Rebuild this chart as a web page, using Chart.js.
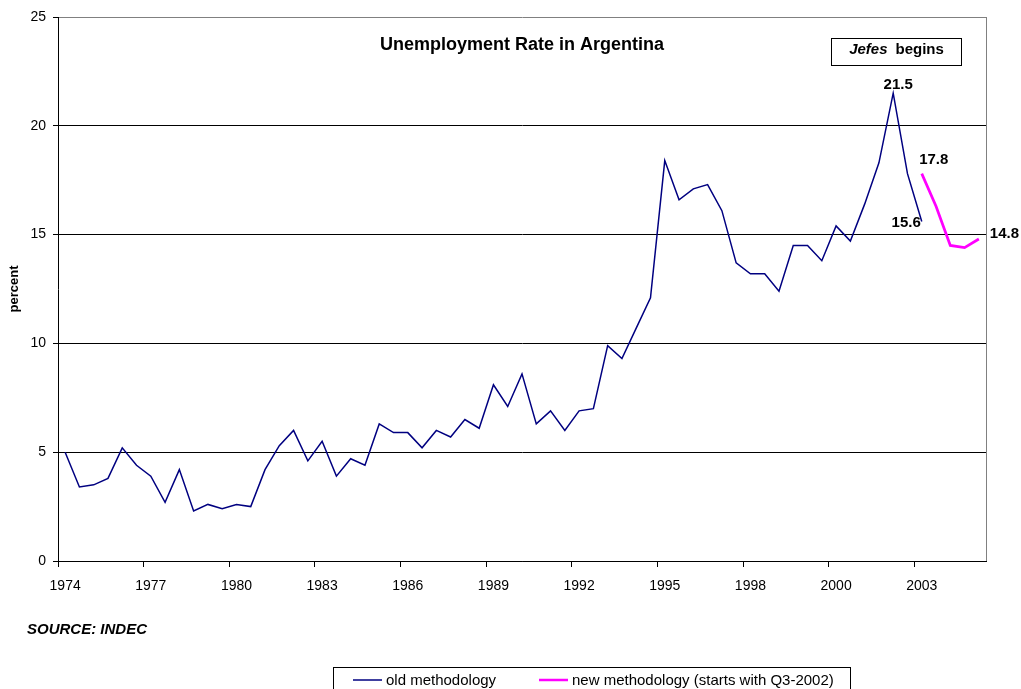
<!DOCTYPE html>
<html>
<head>
<meta charset="utf-8">
<script src="https://cdn.jsdelivr.net/npm/chart.js@4.4.0/dist/chart.umd.min.js"></script>
<style>
html,body{margin:0;padding:0;background:#ffffff;}
#wrap{width:1021px;height:689px;position:relative;overflow:hidden;}
</style>
</head>
<body>
<div id="wrap"><canvas id="c" width="1021" height="689"></canvas></div>
<script>
// ---- data (semi-annual survey rounds, later more frequent) ----
const yearLabels = ['1974','1977','1980','1983','1986','1989','1992','1995','1998','2000','2003'];
const oldMethodology = [
  5.0, 3.4, 3.5, 3.8, 5.2, 4.4, 3.9, 2.7, 4.2, 2.3,
  2.6, 2.4, 2.6, 2.5, 4.2, 5.3, 6.0, 4.6, 5.5, 3.9,
  4.7, 4.4, 6.3, 5.9, 5.9, 5.2, 6.0, 5.7, 6.5, 6.1,
  8.1, 7.1, 8.6, 6.3, 6.9, 6.0, 6.9, 7.0, 9.9, 9.3,
  10.7, 12.1, 18.4, 16.6, 17.1, 17.3, 16.1, 13.7, 13.2, 13.2,
  12.4, 14.5, 14.5, 13.8, 15.4, 14.7, 16.4, 18.3, 21.5, 17.8,
  15.6, null, null, null, null
];
const newMethodology = [
  null, null, null, null, null, null, null, null, null, null,
  null, null, null, null, null, null, null, null, null, null,
  null, null, null, null, null, null, null, null, null, null,
  null, null, null, null, null, null, null, null, null, null,
  null, null, null, null, null, null, null, null, null, null,
  null, null, null, null, null, null, null, null, null, null,
  17.8, 16.3, 14.5, 14.4, 14.8
];
const seriesNames = ['old methodology', 'new methodology (starts with Q3-2002)'];
const chartTitle = 'Unemployment Rate in Argentina';
const yAxisTitle = 'percent';
const sourceNote = 'SOURCE: INDEC';
const yMin = 0, yMax = 25, yStep = 5;
const labelEvery = 6;
const categories = oldMethodology.map((_, i) => (i % labelEvery === 0 ? yearLabels[i / labelEvery] : ''));

const FONT = "'Liberation Sans', Arial, Helvetica, sans-serif";
const BLUE = '#000080';
const PINK = '#FF00FF';

const decor = {
  id: 'decor',
  beforeDatasetsDraw(chart) {
    const {ctx, chartArea: a} = chart;
    ctx.save();
    ctx.strokeStyle = '#808080';
    ctx.lineWidth = 1;
    const rx = Math.round(a.right) + 0.5;
    ctx.beginPath();
    ctx.moveTo(rx, a.top);
    ctx.lineTo(rx, a.bottom);
    ctx.stroke();
    ctx.restore();
  },
  afterDraw(chart) {
    const {ctx, chartArea: a} = chart;
    const oldPts = chart.getDatasetMeta(0).data;
    const newPts = chart.getDatasetMeta(1).data;
    ctx.save();
    ctx.fillStyle = '#000';
    ctx.textBaseline = 'alphabetic';

    // title
    ctx.font = 'bold 18px ' + FONT;
    ctx.textAlign = 'center';
    ctx.fillText(chartTitle, (a.left + a.right) / 2, 50);

    // value annotations
    ctx.font = 'bold 15px ' + FONT;
    const peakIdx = 58;
    let p = oldPts[peakIdx];
    ctx.textAlign = 'center';
    ctx.fillText(oldMethodology[peakIdx].toFixed(1), p.x + 5, p.y - 4);
    const startNew = 60;
    p = newPts[startNew];
    ctx.fillText(newMethodology[startNew].toFixed(1), p.x + 12, p.y - 10);
    p = oldPts[startNew];
    ctx.textAlign = 'right';
    ctx.fillText(oldMethodology[startNew].toFixed(1), p.x - 1, p.y + 5);
    const lastIdx = newMethodology.length - 1;
    p = newPts[lastIdx];
    ctx.textAlign = 'left';
    ctx.fillText(newMethodology[lastIdx].toFixed(1), p.x + 11, p.y - 1);

    // "Jefes begins" box
    ctx.strokeStyle = '#000';
    ctx.lineWidth = 1;
    ctx.strokeRect(831.5, 38.5, 130, 27);
    ctx.font = 'italic bold 15px ' + FONT;
    const w1 = ctx.measureText('Jefes').width;
    ctx.font = 'bold 15px ' + FONT;
    const gap = 8;
    const w2 = ctx.measureText('begins').width;
    const startX = 896.5 - (w1 + gap + w2) / 2;
    ctx.textAlign = 'left';
    ctx.font = 'italic bold 15px ' + FONT;
    ctx.fillText('Jefes', startX, 54);
    ctx.font = 'bold 15px ' + FONT;
    ctx.fillText('begins', startX + w1 + gap, 54);

    // source note
    ctx.font = 'italic bold 15px ' + FONT;
    ctx.textAlign = 'left';
    ctx.fillText(sourceNote, 27, 634);

    // legend
    ctx.strokeStyle = '#000';
    ctx.lineWidth = 1;
    ctx.strokeRect(333.5, 667.5, 517, 40);
    const items = [
      {x: 353, color: chart.data.datasets[0].borderColor, w: 1.5, text: chart.data.datasets[0].label},
      {x: 539, color: chart.data.datasets[1].borderColor, w: 2.5, text: chart.data.datasets[1].label}
    ];
    ctx.font = '15px ' + FONT;
    items.forEach(it => {
      ctx.strokeStyle = it.color;
      ctx.lineWidth = it.w;
      ctx.beginPath();
      ctx.moveTo(it.x, 680);
      ctx.lineTo(it.x + 29, 680);
      ctx.stroke();
      ctx.fillStyle = '#000';
      ctx.fillText(it.text, it.x + 33, 685);
    });
    ctx.restore();
  }
};

new Chart(document.getElementById('c'), {
  type: 'line',
  data: {
    labels: categories,
    datasets: [
      {label: seriesNames[0], data: oldMethodology, borderColor: BLUE, backgroundColor: BLUE, borderWidth: 1.5, pointRadius: 0, tension: 0, spanGaps: false},
      {label: seriesNames[1], data: newMethodology, borderColor: PINK, backgroundColor: PINK, borderWidth: 2.75, pointRadius: 0, tension: 0, spanGaps: false}
    ]
  },
  options: {
    responsive: false,
    animation: false,
    devicePixelRatio: 1,
    layout: {padding: {left: 0, right: 35, top: 17, bottom: 88}},
    plugins: {legend: {display: false}, title: {display: false}, tooltip: {enabled: false}},
    scales: {
      x: {
        type: 'category',
        offset: true,
        afterFit: s => { s.height = 40; },
        grid: {
          offset: true,
          drawOnChartArea: false,
          drawTicks: true,
          tickLength: 6,
          tickColor: c => (c.index % labelEvery === 0 ? '#000' : 'rgba(0,0,0,0)'),
          color: 'rgba(0,0,0,0)'
        },
        border: {display: true, color: '#000', width: 1},
        ticks: {
          autoSkip: false, maxRotation: 0, minRotation: 0, padding: 11,
          color: '#000', font: {family: FONT, size: 14},
          callback: (v, i) => categories[i]
        }
      },
      y: {
        min: yMin, max: yMax,
        afterFit: s => { s.width = 58; },
        grid: {
          color: c => (c.tick && c.tick.value === yMax ? '#808080' : '#000'),
          lineWidth: 1,
          drawTicks: true,
          tickLength: 5,
          tickColor: '#000'
        },
        border: {display: true, color: '#000', width: 1},
        ticks: {stepSize: yStep, padding: 7, color: '#000', font: {family: FONT, size: 14}},
        title: {display: true, text: yAxisTitle, color: '#000', font: {family: FONT, size: 13, weight: 'bold'}, padding: {top: 7, bottom: 0}}
      }
    }
  },
  plugins: [decor]
});
</script>
</body>
</html>
